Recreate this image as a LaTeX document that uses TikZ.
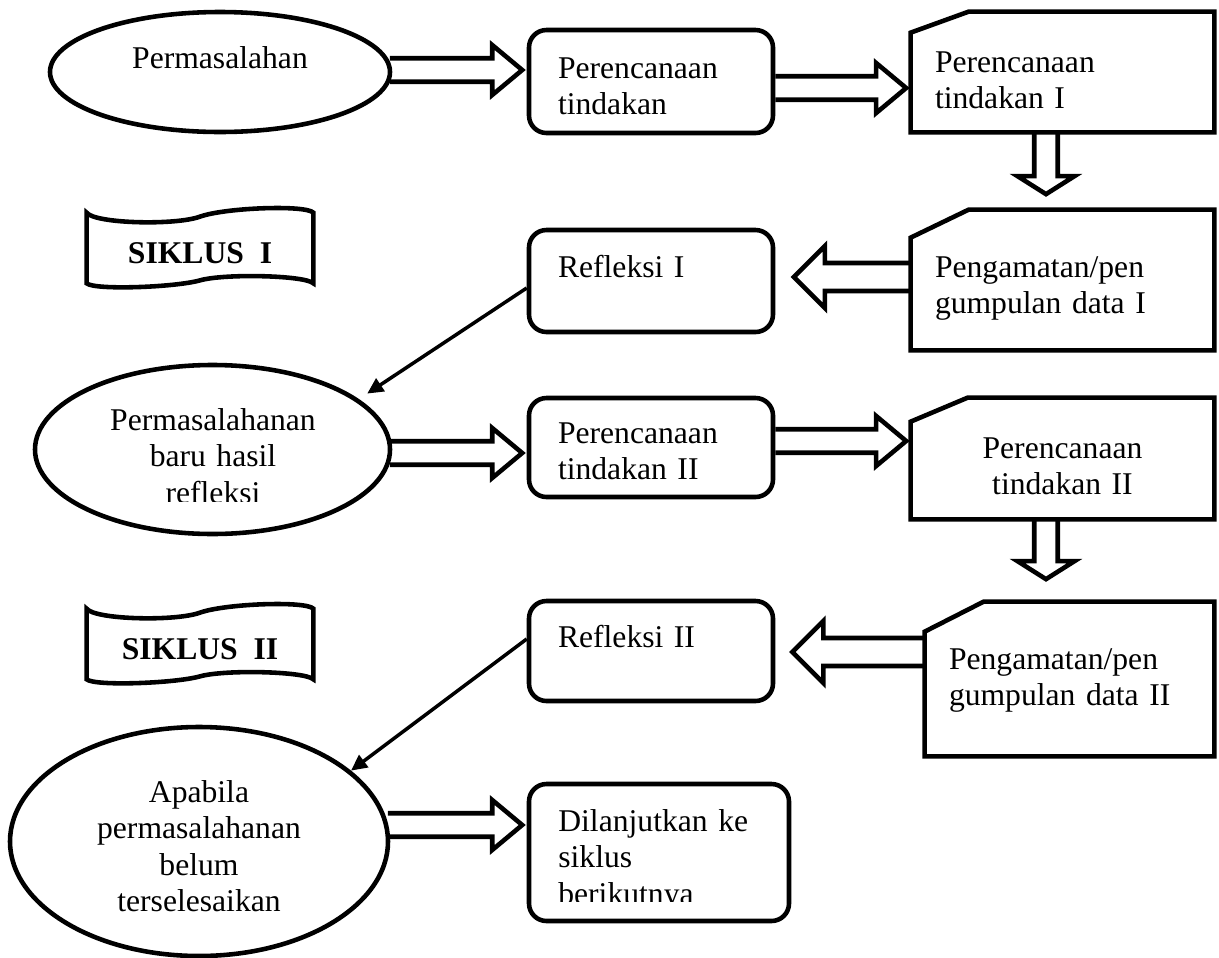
\documentclass[tikz,border=0pt]{standalone}
\usepackage{fontspec}
\setmainfont{Liberation Serif}
\usepackage{tikz}
\usetikzlibrary{shapes.geometric, arrows.meta, calc}
\tikzstyle{every node}=[font=\fontsize{18pt}{20.8pt}\selectfont]
\tikzstyle{oval} = [ellipse, draw=black, line width=2.6pt]
\tikzstyle{rbox} = [rectangle, rounded corners=0.35cm, draw=black, line width=2.6pt, inner xsep=0.58cm, inner ysep=0pt, align=left]
\tikzstyle{snip} = [rectangle, inner xsep=0.48cm, inner ysep=0pt, align=left]
\tikzstyle{banner} = [rectangle, minimum width=4.52cm, minimum height=1.4cm, text height=0.7cm, text depth=0.1cm, font=\fontsize{18pt}{20.8pt}\selectfont\bfseries]
\tikzstyle{cutframe} = [draw=black, line width=2.6pt, line join=miter]
\tikzstyle{link} = [-{Triangle[length=0.32cm, width=0.3cm]}, line width=2pt]
\tikzset{
  blockarrow/.style n args={3}{draw=black, line width=2.6pt, line join=miter,
    to path={let \p1=(\tikztostart), \p2=(\tikztotarget),
      \n1={atan2(\y2-\y1,\x2-\x1)} in
      ($(\p1)+(\n1+90:#1)$) -- ($(\p2)+(\n1+180:#3)+(\n1+90:#1)$)
      -- ($(\p2)+(\n1+180:#3)+(\n1+90:#2)$) -- (\p2)
      -- ($(\p2)+(\n1+180:#3)+(\n1-90:#2)$)
      -- ($(\p2)+(\n1+180:#3)+(\n1-90:#1)$) -- ($(\p1)+(\n1-90:#1)$)}},
  fat/.style={blockarrow={0.235cm}{0.5cm}{0.6cm}},
  fatback/.style={blockarrow={0.28cm}{0.62cm}{0.62cm}},
  fatdown/.style={blockarrow={0.235cm}{0.57cm}{0.36cm}}
}

\begin{document}
\begin{tikzpicture}
  \useasboundingbox (0,0) rectangle (24.38,-19.16);
  % bentuk
  \node (masalah1) [oval, minimum width=6.8cm, minimum height=2.4cm, text height=0.2cm, text depth=0.36cm] at (4.40,-1.44) {Permasalahan};
  \node (ren1) [rbox, text width=3.72cm, text height=0.96cm, text depth=1.10cm] at (13.02,-1.63) {Perencanaan\\tindakan};
  \node (tind1) [snip, text width=5.10cm, text height=1.20cm, text depth=1.20cm] at (21.25,-1.44) {Perencanaan\\tindakan I};
  \node (siklus1) [banner] at (4.00,-4.96) {SIKLUS\ \ I};
  \node (refl1) [rbox, text width=3.72cm, text height=0.94cm, text depth=1.10cm] at (13.02,-5.62) {Refleksi I};
  \node (amat1) [snip, text width=5.10cm, text height=1.34cm, text depth=1.46cm] at (21.25,-5.60) {Pengamatan/pen\\gumpulan data I};
  \node (masalah2) [oval, minimum width=7.1cm, minimum height=3.38cm] at (4.25,-8.99) {};
  \node (ren2) [rbox, text width=3.72cm, text height=0.90cm, text depth=1.08cm] at (13.02,-8.95) {Perencanaan\\tindakan II};
  \node (tind2) [snip, align=center, text width=5.10cm, text height=1.20cm, text depth=1.22cm] at (21.25,-9.17) {Perencanaan\\tindakan II};
  \node (siklus2) [banner] at (4.00,-12.88) {SIKLUS\ \ II};
  \node (refl2) [rbox, text width=3.72cm, text height=0.92cm, text depth=1.08cm] at (13.02,-13.02) {Refleksi II};
  \node (amat2) [snip, text width=4.82cm, text height=1.34cm, text depth=1.74cm] at (21.39,-13.58) {Pengamatan/pen\\gumpulan data II};
  \node (masalah3) [oval, align=center, text width=4.3cm, minimum width=7.56cm, minimum height=4.58cm, text height=0.4cm, text depth=1.98cm] at (3.98,-16.83) {Apabila\\permasalahanan\\belum\\terselesaikan};
  \node (lanjut) [rbox, text width=4.04cm, text height=0.94cm, text depth=1.80cm] at (13.18,-17.05) {};

  % teks yang terpotong
  \begin{scope}
    \clip (0,-7) rectangle (8,-10.02);
    \node (masalah2txt) [anchor=base, align=center, text width=4.3cm, inner sep=0pt] at (4.26,-8.60) {Permasalahanan\\baru hasil\\refleksi};
  \end{scope}
  \begin{scope}
    \clip (10,-15) rectangle (16,-18.02);
    \node (lanjuttxt) [anchor=base west, align=left, text width=4.04cm, inner sep=0pt] at (11.16,-16.62) {Dilanjutkan ke\\siklus\\berikutnya};
  \end{scope}

  % bingkai
  \draw [cutframe] ($(tind1.north west)+(0,-0.42)$) -- ($(tind1.north west)+(1.16,0)$) -- (tind1.north east) -- (tind1.south east) -- (tind1.south west) -- cycle;
  \draw [cutframe] ($(amat1.north west)+(0,-0.56)$) -- ($(amat1.north west)+(1.16,0)$) -- (amat1.north east) -- (amat1.south east) -- (amat1.south west) -- cycle;
  \draw [cutframe] ($(tind2.north west)+(0,-0.48)$) -- ($(tind2.north west)+(1.14,0)$) -- (tind2.north east) -- (tind2.south east) -- (tind2.south west) -- cycle;
  \draw [cutframe] ($(amat2.north west)+(0,-0.60)$) -- ($(amat2.north west)+(1.18,0)$) -- (amat2.north east) -- (amat2.south east) -- (amat2.south west) -- cycle;
  \draw [cutframe] (siklus1.north west) .. controls +(0.16,-0.22) and +(-0.5,-0.18) .. ($(siklus1.north)+(0,-0.08)$) .. controls +(0.5,0.18) and +(-0.16,0.16) .. (siklus1.north east) -- (siklus1.south east) .. controls +(-0.16,0.16) and +(0.5,0.14) .. ($(siklus1.south)+(0,0.06)$) .. controls +(-0.5,-0.14) and +(0.16,-0.14) .. (siklus1.south west) -- cycle;
  \draw [cutframe] (siklus2.north west) .. controls +(0.16,-0.22) and +(-0.5,-0.18) .. ($(siklus2.north)+(0,-0.08)$) .. controls +(0.5,0.18) and +(-0.16,0.16) .. (siklus2.north east) -- (siklus2.south east) .. controls +(-0.16,0.16) and +(0.5,0.14) .. ($(siklus2.south)+(0,0.06)$) .. controls +(-0.5,-0.14) and +(0.16,-0.14) .. (siklus2.south west) -- cycle;

  % panah
  \draw [fat] ([xshift=-0.05cm, yshift=0.04cm]masalah1.east) to ([xshift=-0.09cm, yshift=0.23cm]ren1.west);
  \draw [fat] ([yshift=-0.13cm]ren1.east) to ([xshift=-0.09cm, yshift=-0.32cm]tind1.west);
  \draw [fatdown] ([xshift=-0.33cm]tind1.south) to ([xshift=-0.33cm, yshift=0.31cm]amat1.north);
  \draw [fatback] ([yshift=0.06cm]amat1.west) to ([xshift=0.37cm, yshift=0.08cm]refl1.east);
  \draw [link, shorten >=0.2cm] ([yshift=-0.14cm]refl1.west) -- (masalah2.19);
  \draw [fat] ([xshift=-0.05cm, yshift=-0.07cm]masalah2.east) to ([xshift=-0.09cm, yshift=-0.11cm]ren2.west);
  \draw [fat] ([yshift=0.13cm]ren2.east) to ([xshift=-0.09cm, yshift=0.35cm]tind2.west);
  \draw [fatdown] ([xshift=-0.33cm]tind2.south) to ([xshift=-0.47cm, yshift=0.45cm]amat2.north);
  \draw [fatback] ([yshift=0.54cm]amat2.west) to ([xshift=0.34cm, yshift=-0.02cm]refl2.east);
  \draw [link] ([yshift=0.24cm]refl2.west) -- (masalah3.25);
  \draw [fat] ([xshift=-0.05cm, yshift=0.33cm]masalah3.east) to ([xshift=-0.09cm, yshift=0.55cm]lanjut.west);
\end{tikzpicture}
\end{document}
